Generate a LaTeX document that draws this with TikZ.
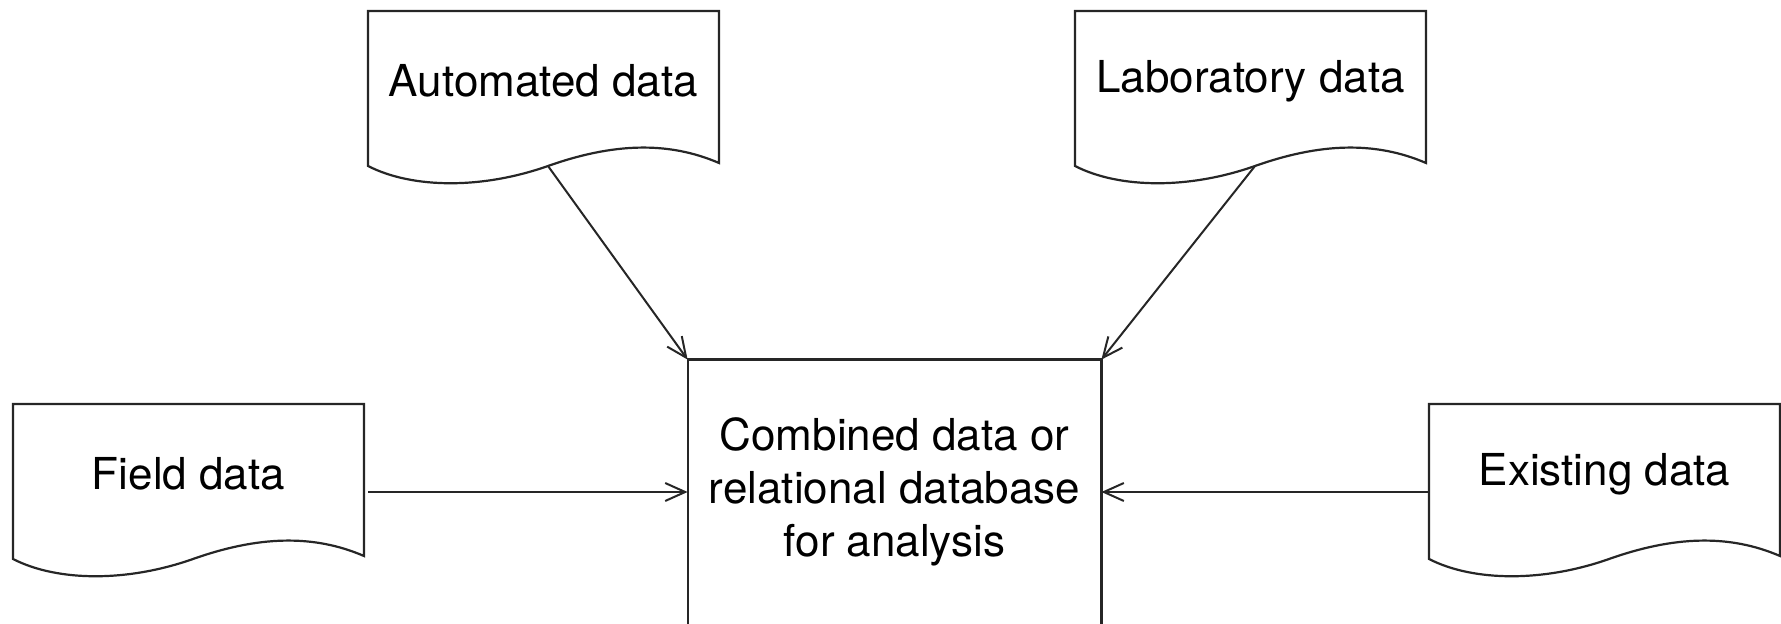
\documentclass[tikz,border=0pt]{standalone}
\usepackage{fontspec}
\setmainfont{TeX Gyre Heros}
\usetikzlibrary{arrows.meta}
\tikzset{
	sheet/.style={draw=black!85, line width=1.1pt, fill=white},
	sheetlabel/.style={font=\fontsize{22pt}{26.5pt}\selectfont, inner sep=0pt},
	hub/.style={font=\fontsize{22pt}{26.5pt}\selectfont, align=center, minimum width=206.5pt, minimum height=132pt, inner sep=0pt},
	feed/.style={draw=black!85, line width=1pt, -{Straight Barb[length=10pt,width=9pt]}},
}
% data sheet with wavy bottom edge: name, label
\newcommand{\datasheet}[2]{
	\draw[sheet] (0,0) -- (351,0) -- (351,152) .. controls (300,130) and (245,132) .. (180,155)
		.. controls (115,178) and (45,178) .. (0,155) -- cycle;
	\node[sheetlabel] (#1) at (175.5,70) {#2};
	\coordinate (#1-tail) at (180,155);
	\coordinate (#1-east) at (355,88);
	\coordinate (#1-west) at (0,88);
}
\begin{document}
\begin{tikzpicture}[x=0.5pt, y=-0.5pt]
	\clip (0,0) rectangle (1781,624);
%
	\begin{scope}[shift={(368,11)}]
		\datasheet{automated}{Automated data}
	\end{scope}
	\begin{scope}[shift={(1075,11)}]
		\datasheet{laboratory}{Laboratory data}
	\end{scope}
	\begin{scope}[shift={(13,404)}]
		\datasheet{field}{Field data}
	\end{scope}
	\begin{scope}[shift={(1429,404)}]
		\datasheet{existing}{Existing data}
	\end{scope}
%
	\node[hub] (combined) at (894.5,492) {Combined data or\\relational database\\for analysis};
	\draw[sheet, fill=none] ([yshift=-40pt]combined.south west) |- (combined.north east) -- ([yshift=-40pt]combined.south east);
%
	\draw[feed] (automated-tail) -- (combined.north west);
	\draw[feed] (laboratory-tail) -- (combined.north east);
	\draw[feed] (field-east) -- (field-east -| combined.west);
	\draw[feed] (existing-west) -- (existing-west -| combined.east);
\end{tikzpicture}
\end{document}
